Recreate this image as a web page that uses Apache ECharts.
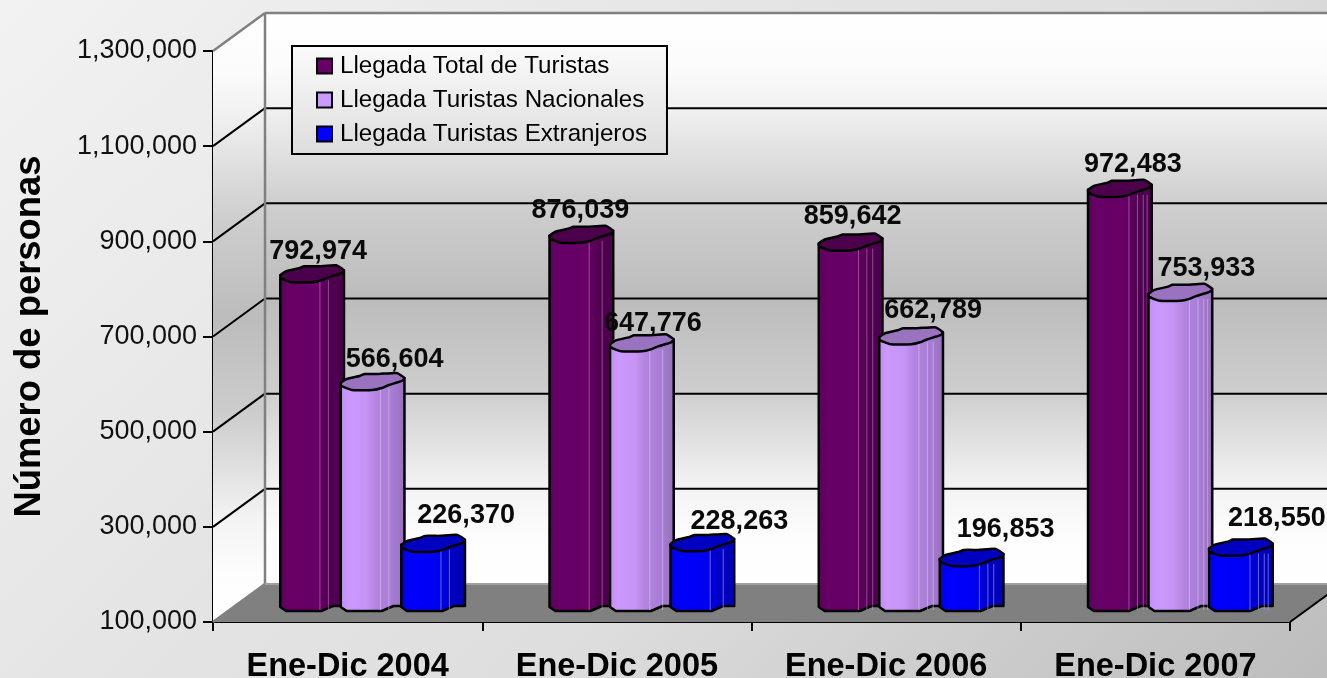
<!DOCTYPE html>
<html><head><meta charset="utf-8">
<style>html,body{margin:0;padding:0;background:#fff}#c{width:1327px;height:678px}</style>
<script src="https://cdn.jsdelivr.net/npm/echarts@6/dist/echarts.min.js"></script>
</head><body><div id="c"></div>
<script>
const categories = ['Ene-Dic 2004','Ene-Dic 2005','Ene-Dic 2006','Ene-Dic 2007'];
const turistasTotal = [792974, 876039, 859642, 972483];
const turistasNacionales = [566604, 647776, 662789, 753933];
const turistasExtranjeros = [226370, 228263, 196853, 218550];
const seriesNames = ['Llegada Total de Turistas','Llegada Turistas Nacionales','Llegada Turistas Extranjeros'];
const yTicks = {min:100000, max:1300000, step:200000};

// layout / styling only
const FONT = '"Liberation Sans", Arial, sans-serif';
const DEPTH = {x:52, y:-38};
const MID = {x:25, y:-18};
const BAR_W = 65, BAR_STEP = 60.5;
const labelNudge = [
  [[6,-23],[22,-22],[33,-28]],
  [[-1,-24],[11,-20],[37,-21]],
  [[2,-26],[22,-26],[34,-28]],
  [[13,-24],[26,-24],[36,-29]]
];
const palettes = [
  {stops:[[0,'#5c005c'],[.15,'#660066'],[.6,'#660066'],[.75,'#520052'],[1,'#4a004a']], cap:'#4c004c', line:'rgba(220,170,220,.45)'},
  {stops:[[0,'#c08cf5'],[.15,'#cc99ff'],[.4,'#c594f5'],[.55,'#b484e0'],[.8,'#a67cd4'],[1,'#9470b4']], cap:'#9a73c0', line:'rgba(235,215,255,.45)'},
  {stops:[[0,'#0000e6'],[.15,'#0000ff'],[.6,'#0000f0'],[.72,'#0000c8'],[1,'#0000b0']], cap:'#0000c0', line:'rgba(170,170,255,.6)'}
];
const facetSets = [[.12,.25],[.12,.32],[.12,.25,.34],[.14,.27,.36,.42]];
const capOutline = [[-.49,1],[-.4,-3],[-.2,-6],[-.12,-8],[.1,-8],[.37,-9],[.49,-4],[.45,-1],[.25,3],[.14,6],[0,8],[-.32,8],[-.48,4]];
const baseOutline = [[-.49,3],[-.4,7],[.14,7],[.32,2],[.49,2]];

const vGrad = (c)=>({type:'linear',x:0,y:0,x2:0,y2:1,colorStops:c});
const wallStops = [{offset:0,color:'#ffffff'},{offset:.1,color:'#fbfbfb'},{offset:.17,color:'#f0f0f0'},{offset:.33,color:'#cfcfcf'},{offset:.5,color:'#bcbcbc'},{offset:.66,color:'#cdcdcd'},{offset:.83,color:'#f3f3f3'},{offset:.92,color:'#fdfdfd'},{offset:1,color:'#ffffff'}];

function tickValues(){const r=[];for(let v=yTicks.min;v<=yTicks.max;v+=yTicks.step)r.push(v);return r;}

function renderFrame(params, api){
  const x0 = api.coord([0,yTicks.min])[0] - (params.coordSys.width/8);
  const x1 = x0 + params.coordSys.width;
  const yB = api.coord([0,yTicks.min])[1], yT = api.coord([0,yTicks.max])[1];
  const d = DEPTH, kids = [];
  const poly=(pts,style,z2)=>kids.push({type:'polygon',shape:{points:pts},style,z2:z2||0,silent:true});
  const line=(a,b,stroke,w,z2)=>kids.push({type:'line',shape:{x1:a[0],y1:a[1],x2:b[0],y2:b[1]},style:{stroke,lineWidth:w},z2:z2||1,silent:true});
  poly([[x0+d.x,yT+d.y],[x1+d.x,yT+d.y],[x1+d.x,yB+d.y],[x0+d.x,yB+d.y]],{fill:vGrad(wallStops)});
  poly([[x0,yT],[x0+d.x,yT+d.y],[x0+d.x,yB+d.y],[x0,yB]],{fill:vGrad(wallStops)});
  poly([[x0,yB],[x1,yB],[x1+d.x,yB+d.y],[x0+d.x,yB+d.y]],{fill:'#808080'});
  tickValues().forEach(v=>{
    const y=api.coord([0,v])[1];
    if(v>yTicks.min && v<yTicks.max){
      line([x0,y],[x0+d.x,y+d.y],'#000',2);
      line([x0+d.x,y+d.y],[x1+d.x,y+d.y],'#000',2);
    }
  });
  line([x0,yT],[x0+d.x,yT+d.y],'#808080',2.5,2);
  line([x0+d.x,yT+d.y],[x1+d.x,yT+d.y],'#808080',2.5,2);
  line([x0+d.x,yT+d.y],[x0+d.x,yB+d.y],'#808080',2.5,2);
  line([x0,yB],[x0+d.x,yB+d.y],'#808080',2.5,2);
  line([x0+d.x,yB+d.y],[x1+d.x,yB+d.y],'#a0a0a0',2,2);
  line([x1,yB],[x1+d.x,yB+d.y],'#000',2,2);
  return {type:'group',children:kids};
}

function barRenderer(idx){
  return function(params, api){
    const cat = api.value(0), val = api.value(1);
    const cx = api.coord([cat,val])[0] + MID.x + (idx-1)*BAR_STEP;
    const yt = api.coord([cat,val])[1] + MID.y;
    const yb = api.coord([cat,yTicks.min])[1] + MID.y;
    const pal = palettes[idx];
    const stops = pal.stops.map(s=>({offset:s[0],color:s[1]}));
    const body = [[cx-.49*BAR_W,yt+1]];
    baseOutline.forEach(p=>body.push([cx+p[0]*BAR_W,yb+p[1]]));
    body.push([cx+.49*BAR_W,yt-4]);
    const kids = [{type:'polygon',shape:{points:body},
      style:{fill:{type:'linear',x:0,y:0,x2:1,y2:0,colorStops:stops},stroke:'#000',lineWidth:2.5,lineJoin:'round'},z2:idx*10}];
    facetSets[cat].forEach(u=>{
      const x=cx+u*BAR_W;
      kids.push({type:'line',shape:{x1:x,y1:yt+6,x2:x,y2:yb+6},style:{stroke:pal.line,lineWidth:1},z2:idx*10+1});
    });
    kids.push({type:'polygon',shape:{points:capOutline.map(p=>[cx+p[0]*BAR_W,yt+p[1]]),smooth:0.15},
      style:{fill:pal.cap,stroke:'#000',lineWidth:2.5,lineJoin:'round'},z2:idx*10+2});
    const n = labelNudge[cat][idx];
    kids.push({type:'text',x:cx+n[0],y:yt+n[1],z2:100,
      style:{text:api.value(1).toLocaleString('en-US'),font:'bold 27px '+FONT,fill:'#0a0a0a',align:'center',verticalAlign:'middle'}});
    return {type:'group',children:kids};
  };
}

const rawSeries = [turistasTotal,turistasNacionales,turistasExtranjeros];
const legendColors = ['#660066','#cc99ff','#0000ff'];

const chart = echarts.init(document.getElementById('c'),null,{renderer:'canvas'});
chart.setOption({
  animation:false,
  backgroundColor:{type:'linear',x:0,y:0,x2:1,y2:2,colorStops:[{offset:0,color:'#f2f2f2'},{offset:.3,color:'#e4e4e4'},{offset:.45,color:'#dedede'},{offset:.75,color:'#bcbcbc'},{offset:1,color:'#bcbcbc'}]},
  grid:{left:213,right:37,top:51,bottom:56,containLabel:false,outerBoundsMode:'none'},
  legend:{
    orient:'vertical',left:292,top:46,icon:'rect',
    padding:[8,20,8,24],itemGap:10,itemWidth:15,itemHeight:15,
    borderColor:'#000',borderWidth:2,
    backgroundColor:vGrad([{offset:0,color:'#fbfbfb'},{offset:1,color:'#dddddd'}]),
    textStyle:{fontFamily:FONT,fontSize:24.2,color:'#000',lineHeight:24,padding:[0,0,0,3]},
    data:seriesNames,z:20
  },
  xAxis:{type:'category',data:categories,boundaryGap:true,
    axisLine:{show:true,lineStyle:{color:'#000',width:2}},
    axisTick:{show:true,length:9,alignWithLabel:false,lineStyle:{color:'#000',width:2}},
    axisLabel:{fontFamily:FONT,fontSize:32.5,fontWeight:'bold',color:'#000',margin:29,hideOverlap:false},
    splitLine:{show:false}},
  yAxis:{type:'value',min:yTicks.min,max:yTicks.max,interval:yTicks.step,
    name:'Número de personas',nameLocation:'middle',nameGap:165,nameRotate:90,
    nameTextStyle:{fontFamily:FONT,fontSize:36.4,fontWeight:'bold',color:'#000'},
    axisLine:{show:true,lineStyle:{color:'#000',width:2}},
    axisTick:{show:true,length:10,lineStyle:{color:'#000',width:2}},
    axisLabel:{fontFamily:FONT,fontSize:27,color:'#111',margin:16,formatter:v=>v.toLocaleString('en-US')},
    splitLine:{show:false}},
  series:[
    {type:'custom',name:'frame',z:1,silent:true,renderItem:renderFrame,data:[[0,yTicks.min]],clip:false,encode:{x:0,y:1}},
  ].concat(rawSeries.map((vals,i)=>({
    type:'custom',name:seriesNames[i],z:3+i,renderItem:barRenderer(i),clip:false,
    itemStyle:{color:legendColors[i],borderColor:'#000',borderWidth:2},
    data:vals.map((v,c)=>[c,v]),encode:{x:0,y:1}
  })))
});
</script></body></html>
